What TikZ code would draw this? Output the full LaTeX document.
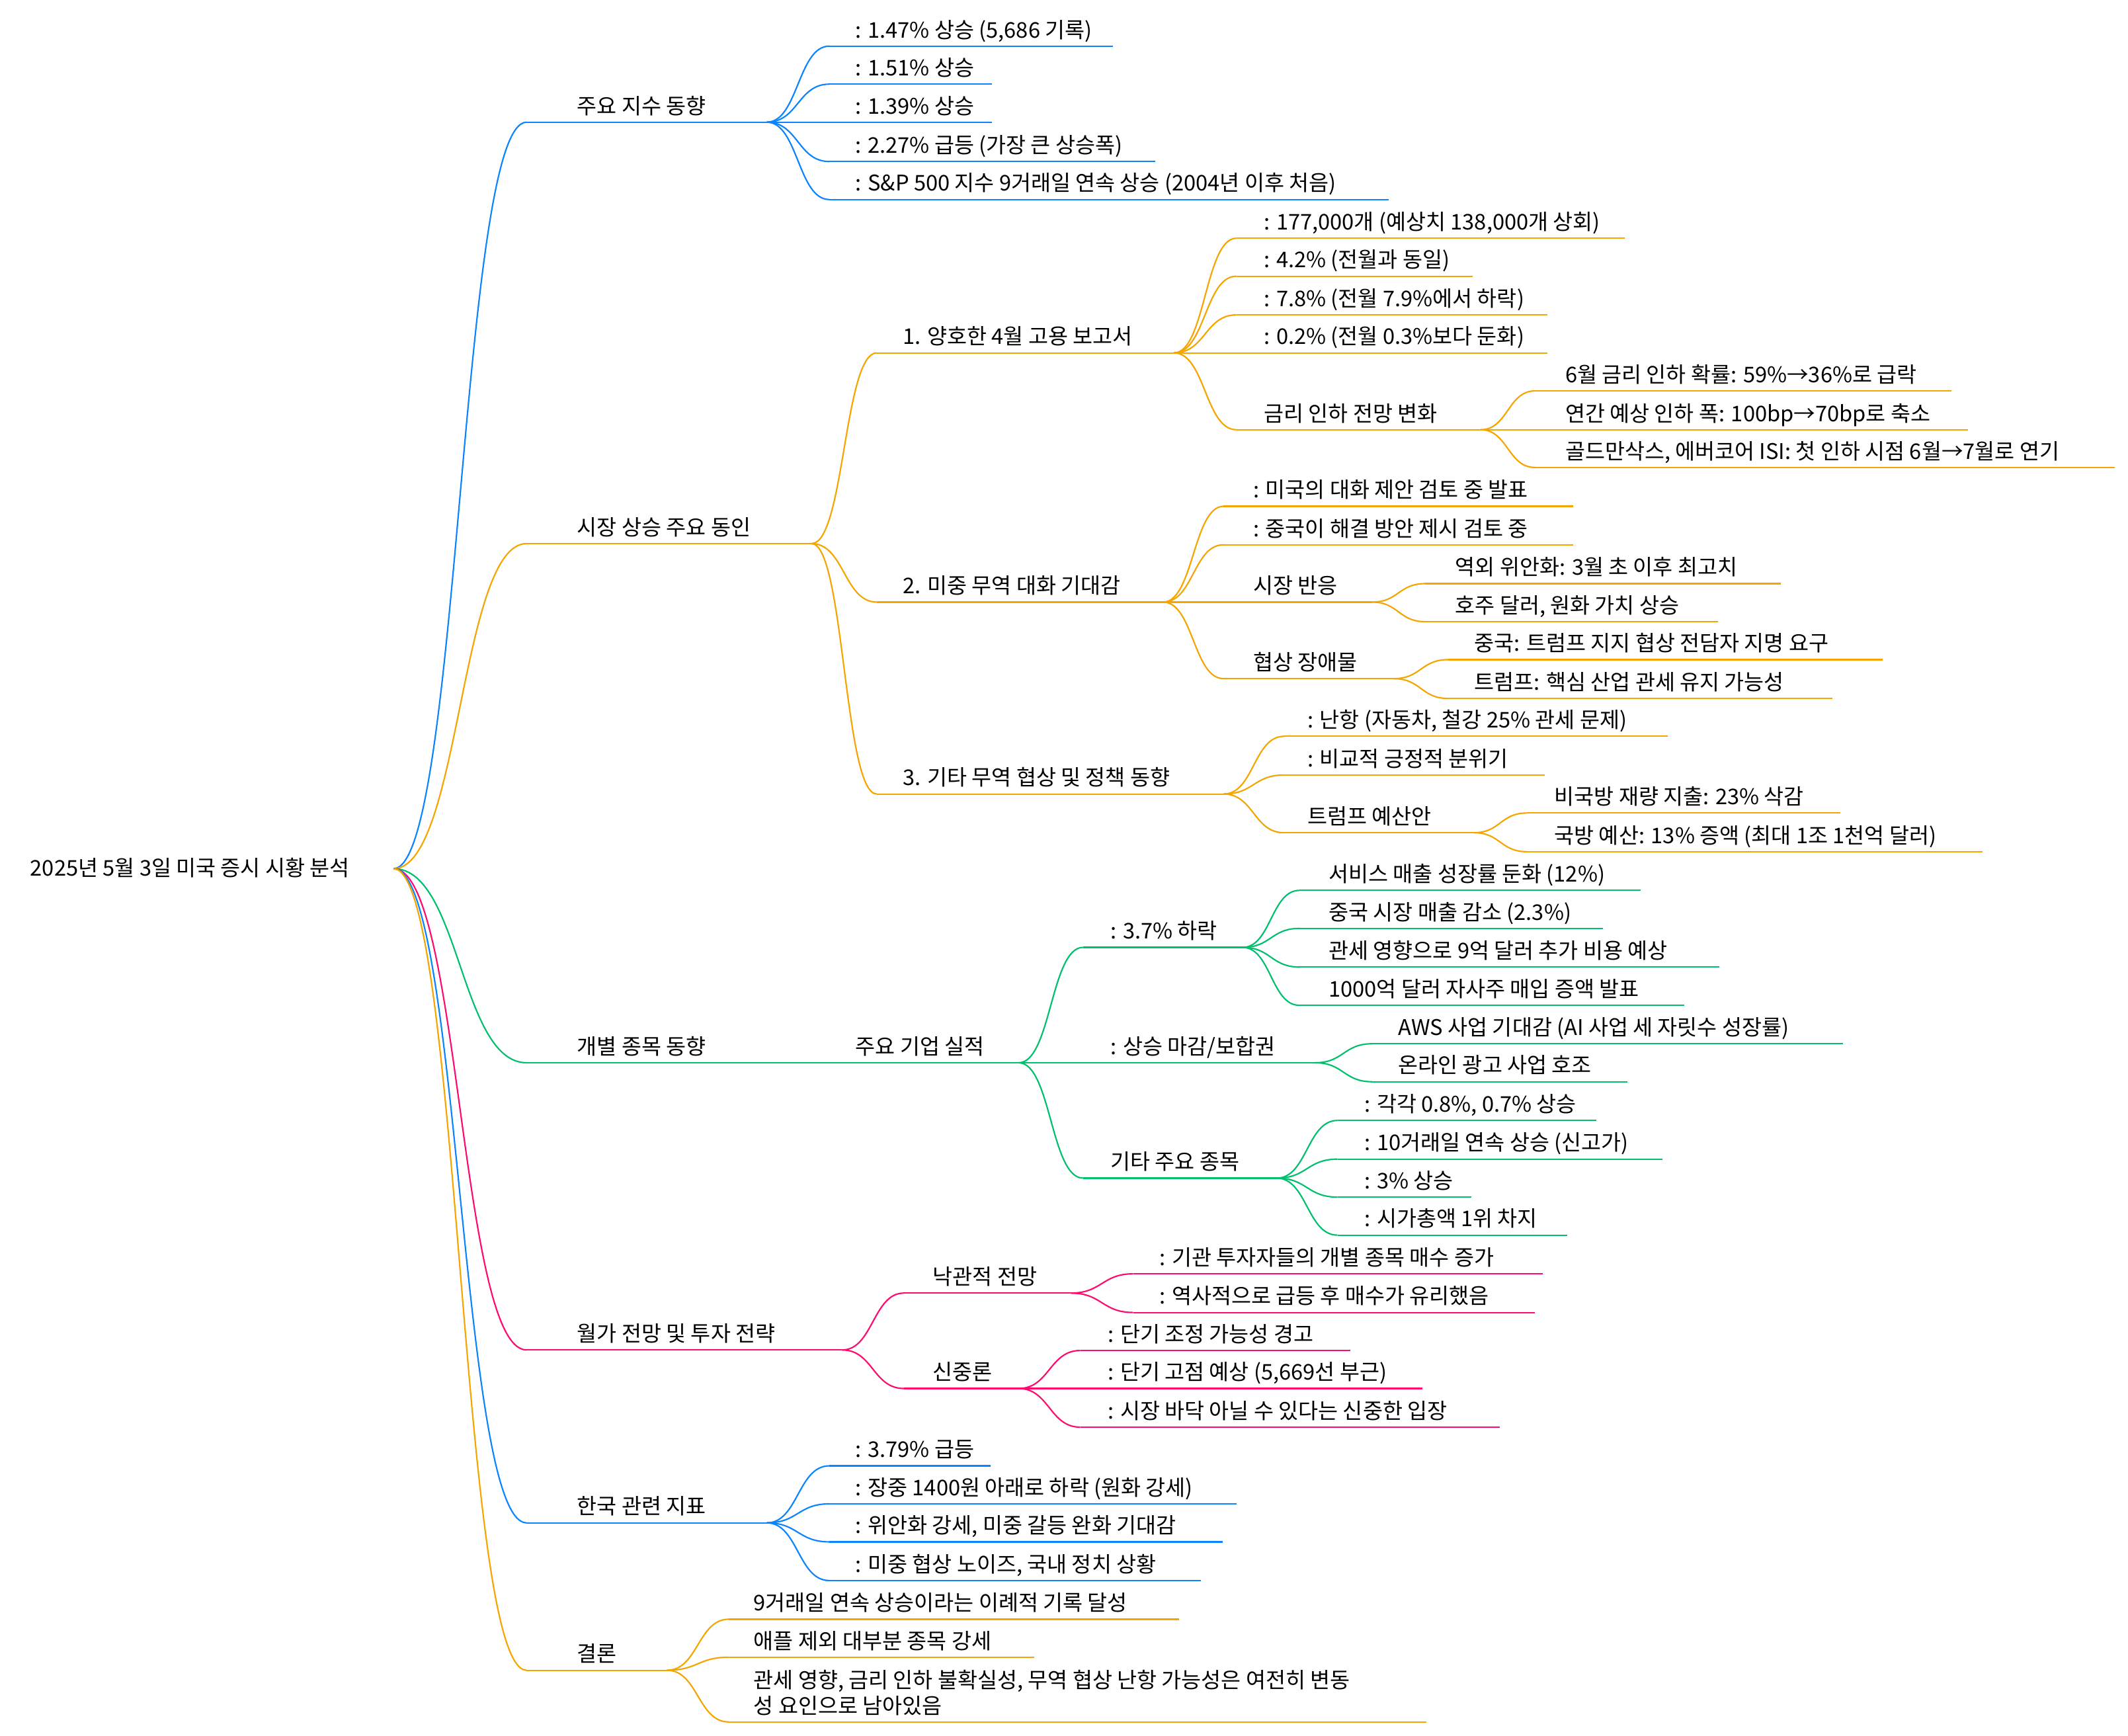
\documentclass[tikz,border=0pt]{standalone}
\usepackage{fontspec}
\setmainfont{Noto Sans CJK KR}
\usetikzlibrary{calc}

\definecolor{mapblue}{RGB}{10,132,255}
\definecolor{maporange}{RGB}{245,165,0}
\definecolor{mapgreen}{RGB}{0,192,110}
\definecolor{mappink}{RGB}{255,10,110}

% topic: name, colour, line start, text start, line end, y, text
\newcommand{\topic}[7]{%
  \coordinate (#1) at (#3,#6);
  \coordinate (#1e) at (#5,#6);
  \draw[#2, wire] (#1) -- (#1e);
  \node[txt] (#1t) at (#4,#6-6.2) {#7};
}
% link from the end of one topic to the start of another
\newcommand{\branch}[3]{%
  \draw[#1, wire] let \p1=(#2e), \p2=(#3) in
    (#2e) .. controls ({(\x1+\x2)/2},\y1) and ({(\x1+\x2)/2},\y2) .. (#3);
}

\begin{document}
\begin{tikzpicture}[x=0.02cm, y=-0.02cm,
    wire/.style={line width=0.6pt},
    txt/.style={anchor=base west, inner sep=0pt, font=\fontsize{9.05pt}{10.8pt}\selectfont}]
    \useasboundingbox (0,0) rectangle (1568,1279);

    % Root
    \coordinate (roote) at (290,640);
    \node[txt] (root) at (22,645.5) {2025년 5월 3일 미국 증시 시황 분석};

    % Main branches
    \topic{idx}{mapblue}{388}{425}{565}{90}{주요 지수 동향}
    \topic{drv}{maporange}{388}{425}{598}{400.5}{시장 상승 주요 동인}
    \topic{stk}{mapgreen}{388}{425}{565}{783}{개별 종목 동향}
    \topic{wst}{mappink}{388}{425}{620.5}{994.6}{월가 전망 및 투자 전략}
    \topic{kor}{mapblue}{388}{425}{565}{1122}{한국 관련 지표}
    \topic{cnc}{maporange}{388}{425}{491.5}{1230.6}{결론}
    \branch{mapblue}{root}{idx}
    \branch{maporange}{root}{drv}
    \branch{mapgreen}{root}{stk}
    \branch{mappink}{root}{wst}
    \branch{mapblue}{root}{kor}
    \branch{maporange}{root}{cnc}

    % -- index moves
    \topic{idx1}{mapblue}{611}{630}{820}{34}{: 1.47\% 상승 (5,686 기록)}
    \topic{idx2}{mapblue}{611}{630}{731}{62}{: 1.51\% 상승}
    \topic{idx3}{mapblue}{611}{630}{731}{90}{: 1.39\% 상승}
    \topic{idx4}{mapblue}{611}{630}{851}{119}{: 2.27\% 급등 (가장 큰 상승폭)}
    \topic{idx5}{mapblue}{611}{630}{1023}{147}{: S\&P 500 지수 9거래일 연속 상승 (2004년 이후 처음)}
    \branch{mapblue}{idx}{idx1}
    \branch{mapblue}{idx}{idx2}
    \branch{mapblue}{idx}{idx3}
    \branch{mapblue}{idx}{idx4}
    \branch{mapblue}{idx}{idx5}

    % -- drivers
    \topic{jobs}{maporange}{646}{665}{865}{260}{1. 양호한 4월 고용 보고서}
    \topic{talk}{maporange}{646}{665}{857}{443.6}{2. 미중 무역 대화 기대감}
    \topic{deal}{maporange}{646}{665}{901.6}{585}{3. 기타 무역 협상 및 정책 동향}
    \branch{maporange}{drv}{jobs}
    \branch{maporange}{drv}{talk}
    \branch{maporange}{drv}{deal}

    \topic{jobs1}{maporange}{911}{931}{1197}{175.5}{: 177,000개 (예상치 138,000개 상회)}
    \topic{jobs2}{maporange}{911}{931}{1085}{203.5}{: 4.2\% (전월과 동일)}
    \topic{jobs3}{maporange}{911}{931}{1140}{232}{: 7.8\% (전월 7.9\%에서 하락)}
    \topic{jobs4}{maporange}{911}{931}{1140}{260}{: 0.2\% (전월 0.3\%보다 둔화)}
    \topic{rate}{maporange}{911}{931}{1091}{316.6}{금리 인하 전망 변화}
    \branch{maporange}{jobs}{jobs1}
    \branch{maporange}{jobs}{jobs2}
    \branch{maporange}{jobs}{jobs3}
    \branch{maporange}{jobs}{jobs4}
    \branch{maporange}{jobs}{rate}
    \topic{rate1}{maporange}{1131}{1153}{1438}{288}{6월 금리 인하 확률: 59\%→36\%로 급락}
    \topic{rate2}{maporange}{1131}{1153}{1450}{316.6}{연간 예상 인하 폭: 100bp→70bp로 축소}
    \topic{rate3}{maporange}{1131}{1153}{1558}{344.4}{골드만삭스, 에버코어 ISI: 첫 인하 시점 6월→7월로 연기}
    \branch{maporange}{rate}{rate1}
    \branch{maporange}{rate}{rate2}
    \branch{maporange}{rate}{rate3}

    \topic{talk1}{maporange}{901.6}{923}{1159}{373}{: 미국의 대화 제안 검토 중 발표}
    \topic{talk2}{maporange}{901.6}{923}{1159}{401.4}{: 중국이 해결 방안 제시 검토 중}
    \topic{mkt}{maporange}{901.6}{923}{1011}{443.6}{시장 반응}
    \topic{obst}{maporange}{901.6}{923}{1027}{500}{협상 장애물}
    \branch{maporange}{talk}{talk1}
    \branch{maporange}{talk}{talk2}
    \branch{maporange}{talk}{mkt}
    \branch{maporange}{talk}{obst}
    \topic{mkt1}{maporange}{1050}{1072}{1312}{430}{역외 위안화: 3월 초 이후 최고치}
    \topic{mkt2}{maporange}{1050}{1072}{1266}{458}{호주 달러, 원화 가치 상승}
    \branch{maporange}{mkt}{mkt1}
    \branch{maporange}{mkt}{mkt2}
    \topic{obst1}{maporange}{1067}{1086}{1387}{486}{중국: 트럼프 지지 협상 전담자 지명 요구}
    \topic{obst2}{maporange}{1067}{1086}{1350}{514.6}{트럼프: 핵심 산업 관세 유지 가능성}
    \branch{maporange}{obst}{obst1}
    \branch{maporange}{obst}{obst2}

    \topic{deal1}{maporange}{946}{963}{1229}{542.5}{: 난항 (자동차, 철강 25\% 관세 문제)}
    \topic{deal2}{maporange}{946}{963}{1138}{571}{: 비교적 긍정적 분위기}
    \topic{budg}{maporange}{946}{963}{1086}{613.5}{트럼프 예산안}
    \branch{maporange}{deal}{deal1}
    \branch{maporange}{deal}{deal2}
    \branch{maporange}{deal}{budg}
    \topic{budg1}{maporange}{1125}{1145}{1356}{599}{비국방 재량 지출: 23\% 삭감}
    \topic{budg2}{maporange}{1125}{1145}{1461}{627.5}{국방 예산: 13\% 증액 (최대 1조 1천억 달러)}
    \branch{maporange}{budg}{budg1}
    \branch{maporange}{budg}{budg2}

    % -- single stocks
    \topic{earn}{mapgreen}{605}{630}{750.6}{783}{주요 기업 실적}
    \branch{mapgreen}{stk}{earn}
    \topic{aapl}{mapgreen}{798}{818}{915.5}{698}{: 3.7\% 하락}
    \topic{amzn}{mapgreen}{798}{818}{969}{783}{: 상승 마감/보합권}
    \topic{misc}{mapgreen}{798}{818}{940.7}{868}{기타 주요 종목}
    \branch{mapgreen}{earn}{aapl}
    \branch{mapgreen}{earn}{amzn}
    \branch{mapgreen}{earn}{misc}
    \topic{aapl1}{mapgreen}{957.5}{978.7}{1209}{656}{서비스 매출 성장률 둔화 (12\%)}
    \topic{aapl2}{mapgreen}{957.5}{978.7}{1181}{684}{중국 시장 매출 감소 (2.3\%)}
    \topic{aapl3}{mapgreen}{957.5}{978.7}{1267}{712.5}{관세 영향으로 9억 달러 추가 비용 예상}
    \topic{aapl4}{mapgreen}{957.5}{978.7}{1241}{740.7}{1000억 달러 자사주 매입 증액 발표}
    \branch{mapgreen}{aapl}{aapl1}
    \branch{mapgreen}{aapl}{aapl2}
    \branch{mapgreen}{aapl}{aapl3}
    \branch{mapgreen}{aapl}{aapl4}
    \topic{amzn1}{mapgreen}{1011}{1030}{1358}{769}{AWS 사업 기대감 (AI 사업 세 자릿수 성장률)}
    \topic{amzn2}{mapgreen}{1011}{1030}{1199}{797}{온라인 광고 사업 호조}
    \branch{mapgreen}{amzn}{amzn1}
    \branch{mapgreen}{amzn}{amzn2}
    \topic{misc1}{mapgreen}{985.5}{1005}{1176}{825.5}{: 각각 0.8\%, 0.7\% 상승}
    \topic{misc2}{mapgreen}{985.5}{1005}{1225}{854}{: 10거래일 연속 상승 (신고가)}
    \topic{misc3}{mapgreen}{985.5}{1005}{1084}{882}{: 3\% 상승}
    \topic{misc4}{mapgreen}{985.5}{1005}{1155}{910}{: 시가총액 1위 차지}
    \branch{mapgreen}{misc}{misc1}
    \branch{mapgreen}{misc}{misc2}
    \branch{mapgreen}{misc}{misc3}
    \branch{mapgreen}{misc}{misc4}

    % -- wall street view
    \topic{bull}{mappink}{666}{687}{789}{952.7}{낙관적 전망}
    \topic{bear}{mappink}{666}{687}{750.5}{1023}{신중론}
    \branch{mappink}{wst}{bull}
    \branch{mappink}{wst}{bear}
    \topic{bull1}{mappink}{835}{854}{1137}{938.5}{: 기관 투자자들의 개별 종목 매수 증가}
    \topic{bull2}{mappink}{835}{854}{1131}{967}{: 역사적으로 급등 후 매수가 유리했음}
    \branch{mappink}{bull}{bull1}
    \branch{mappink}{bull}{bull2}
    \topic{bear1}{mappink}{796}{816}{995}{995}{: 단기 조정 가능성 경고}
    \topic{bear2}{mappink}{796}{816}{1048}{1023}{: 단기 고점 예상 (5,669선 부근)}
    \topic{bear3}{mappink}{796}{816}{1105}{1051.5}{: 시장 바닥 아닐 수 있다는 신중한 입장}
    \branch{mappink}{bear}{bear1}
    \branch{mappink}{bear}{bear2}
    \branch{mappink}{bear}{bear3}

    % -- korea
    \topic{kor1}{mapblue}{611}{630}{730}{1080}{: 3.79\% 급등}
    \topic{kor2}{mapblue}{611}{630}{911}{1108}{: 장중 1400원 아래로 하락 (원화 강세)}
    \topic{kor3}{mapblue}{611}{630}{901}{1136}{: 위안화 강세, 미중 갈등 완화 기대감}
    \topic{kor4}{mapblue}{611}{630}{885}{1164.5}{: 미중 협상 노이즈, 국내 정치 상황}
    \branch{mapblue}{kor}{kor1}
    \branch{mapblue}{kor}{kor2}
    \branch{mapblue}{kor}{kor3}
    \branch{mapblue}{kor}{kor4}

    % -- conclusion
    \topic{cnc1}{maporange}{537}{555}{869}{1193}{9거래일 연속 상승이라는 이례적 기록 달성}
    \topic{cnc2}{maporange}{537}{555}{762}{1221}{애플 제외 대부분 종목 강세}
    \coordinate (cnc3) at (537,1268.7);
    \coordinate (cnc3e) at (1051,1268.7);
    \draw[maporange, wire] (cnc3) -- (cnc3e);
    \node[txt, align=left] (cnc3t) at (555,1262.5) {관세 영향, 금리 인하 불확실성, 무역 협상 난항 가능성은 여전히 변동\\성 요인으로 남아있음};
    \branch{maporange}{cnc}{cnc1}
    \branch{maporange}{cnc}{cnc2}
    \branch{maporange}{cnc}{cnc3}
\end{tikzpicture}
\end{document}
